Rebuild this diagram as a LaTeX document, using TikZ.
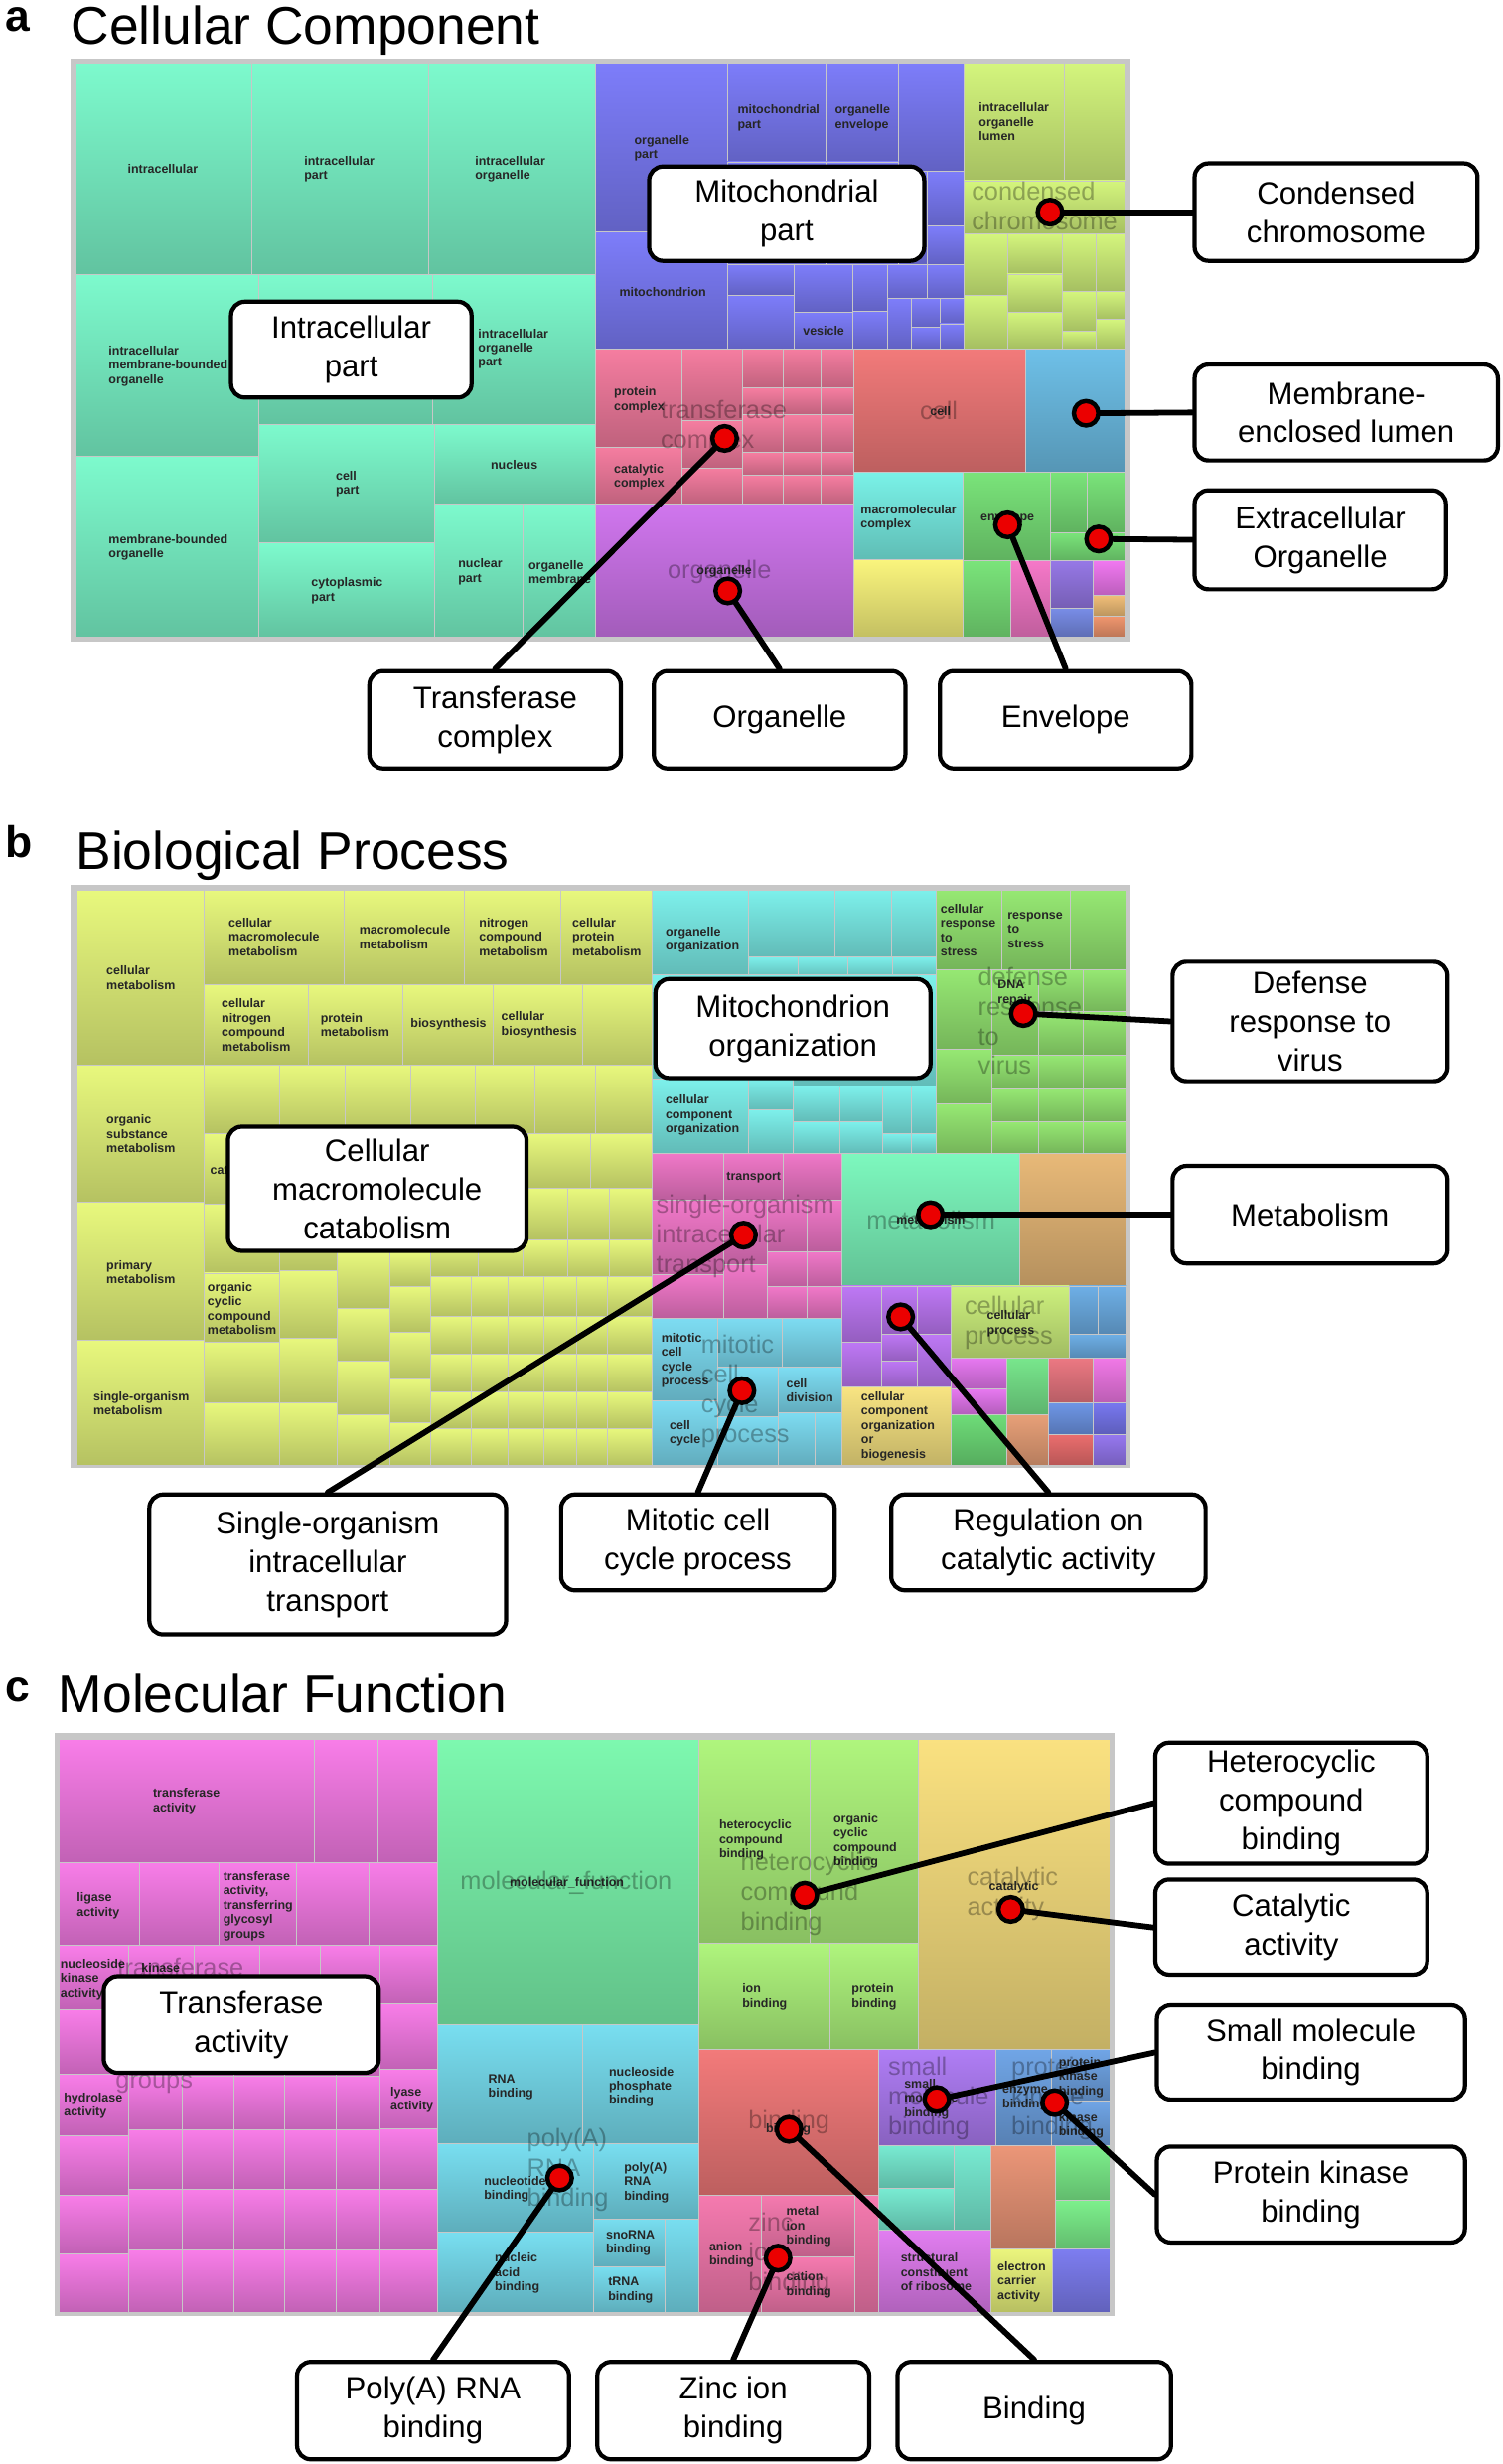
\documentclass[tikz,border=0pt]{standalone}
\usepackage{fontspec}
\setmainfont{Liberation Sans}
\usetikzlibrary{calc,positioning}

% treemap colours
\definecolor{tealA}{RGB}{125,250,205}
\definecolor{mitoA}{RGB}{125,125,250}
\definecolor{lumenA}{RGB}{212,245,125}
\definecolor{pinkA}{RGB}{245,125,160}
\definecolor{cellA}{RGB}{242,122,122}
\definecolor{blueA}{RGB}{110,192,232}
\definecolor{orgA}{RGB}{208,118,238}
\definecolor{cyanA}{RGB}{122,242,232}
\definecolor{yellowA}{RGB}{250,245,125}
\definecolor{greenA}{RGB}{122,228,122}
\definecolor{oliveB}{RGB}{232,248,125}
\definecolor{cyanB}{RGB}{125,240,235}
\definecolor{greenB}{RGB}{150,232,115}
\definecolor{pinkB}{RGB}{240,120,200}
\definecolor{blueB}{RGB}{125,220,242}
\definecolor{metabB}{RGB}{125,248,190}
\definecolor{orangeB}{RGB}{232,185,120}
\definecolor{purpB}{RGB}{190,120,245}
\definecolor{lightB}{RGB}{248,228,130}
\definecolor{ygB}{RGB}{205,240,125}
\definecolor{magC}{RGB}{248,125,232}
\definecolor{mfC}{RGB}{125,248,175}
\definecolor{cyanC}{RGB}{120,222,240}
\definecolor{hetC}{RGB}{175,245,125}
\definecolor{catC}{RGB}{250,225,128}
\definecolor{pinkC}{RGB}{245,122,175}
\definecolor{smallC}{RGB}{175,125,245}
\definecolor{pkC}{RGB}{112,165,230}
\definecolor{dotred}{RGB}{235,0,0}

\tikzset{cell/.style={top color=#1, bottom color=#1!78!black, draw=white!78!black, line width=0.4pt},
frame/.style={fill=black!22},
tm/.style={font=\fontsize{5.6}{6.5}\selectfont\bfseries, text=black!85, align=left, inner sep=0pt, anchor=west},
big/.style={font=\fontsize{11.4}{13.4}\selectfont, text=black, text opacity=0.3, align=left, inner sep=0pt, anchor=west},
lbl/.style={draw, fill=white, line width=1.9pt, rounded corners=2.2mm, align=center, inner sep=0pt, font=\fontsize{14}{17.5}\selectfont},
dot/.style={circle, fill=dotred, draw=black, line width=2pt, minimum size=3.9mm, inner sep=0pt},
conn/.style={line width=2.6pt, line cap=round},
panel/.style={font=\fontsize{20}{20}\selectfont\bfseries, anchor=base west, inner sep=0pt, text depth=0pt},
title/.style={font=\fontsize{24}{24}\selectfont, anchor=base west, inner sep=0pt}}

\begin{document}
\begin{tikzpicture}[x=0.25mm, y=-0.25mm]
\useasboundingbox (0,0) rectangle (956,1568);

% Titles
\node[panel, text height=0.6em] (la) at (3,20) {a};
\node[title] (ta) at (45,28) {Cellular Component};
\node[panel, text height=0.75em] (lb) at (3,546) {b};
\node[title] (tb) at (48,553) {Biological Process};
\node[panel, text height=0.6em] (lc) at (3,1083) {c};
\node[title] (tc) at (37,1090) {Molecular Function};

%%%%%%%%%%%%%%%% a: cellular component
\fill[frame] (45,37) rectangle (719,408);
\foreach \xa/\ya/\xb/\yb in {48/40/160/174.5, 160/40/272.8/174.5, 272.8/40/379/174.5, 48/174.5/164.4/290.6, 164.4/174.5/275/270, 275/174.5/379/270, 164.4/270/276.6/345.5, 164.4/345.5/276.6/405.5, 276.6/270/379/320.8, 276.6/320.8/333/405.5, 333/320.8/379/405.5, 48/290.6/164.4/405.5} \path[cell=tealA] (\xa,\ya) rectangle (\xb,\yb);
\foreach \xa/\ya/\xb/\yb in {379/40/462.7/147.8, 462.7/40/525.4/103, 525.4/40/571.5/103, 571.5/40/613.5/109, 379/147.8/462.7/222, 462.7/103/525.4/168.3, 525.4/103/571.5/168.3, 571.5/109/590.2/168.3, 590.2/109/613.5/144, 590.2/144/613.5/168.3, 462.7/168.3/505/187.7, 462.7/187.7/505/222, 505/168.3/542.4/198.6, 505/198.6/542.4/222, 542.4/168.3/564.7/197.9, 542.4/197.9/564.7/222, 564.7/168.3/590.2/190, 590.2/168.3/613.5/190, 564.7/190/580/222, 580/190/598/208.3, 580/208.3/598/222, 598/190/613.5/206, 598/206/613.5/222} \path[cell=mitoA] (\xa,\ya) rectangle (\xb,\yb);
\foreach \xa/\ya/\xb/\yb in {613.5/40/677/115, 677/40/716/115, 613.5/115/716/149, 613.5/149/641/187.7, 613.5/187.7/641/222, 641/149/676/174.4, 641/174.4/676/198.6, 641/198.6/676/222, 676/149/697.5/185.3, 676/185.3/697.5/210.7, 676/210.7/697.5/222, 697.5/149/716/185.3, 697.5/185.3/716/203.4, 697.5/203.4/716/222} \path[cell=lumenA] (\xa,\ya) rectangle (\xb,\yb);
\foreach \xa/\ya/\xb/\yb in {379/222/433.8/284.5, 379/284.5/433.8/320.8, 433.8/222/472.1/267.6, 433.8/267.6/472.1/297.8, 433.8/297.8/472.1/320.8} \path[cell=pinkA] (\xa,\ya) rectangle (\xb,\yb);
\foreach \xa/\xb in {472.1/498, 498/522.5, 522.5/543} \foreach \ya/\yb in {222/247, 247/263.9, 263.9/288.1, 288.1/302.6, 302.6/320.8} \path[cell=pinkA] (\xa,\ya) rectangle (\xb,\yb);
\path[cell=cellA] (543,222) rectangle (652.3,300.2);
\path[cell=blueA] (652.3,222) rectangle (716,300.2);
\path[cell=orgA] (379,320.8) rectangle (543,405.5);
\path[cell=cyanA] (543,300.2) rectangle (613,356);
\path[cell=yellowA] (543,356) rectangle (613,405.5);
\foreach \xa/\ya/\xb/\yb in {613/300.2/668.6/357, 668.6/300.2/692/339, 692/300.2/716/339, 668.6/339/716/357, 613/357/643.3/405.5} \path[cell=greenA] (\xa,\ya) rectangle (\xb,\yb);
\foreach \xa/\ya/\xb/\yb/\col in {643.3/357/668.6/405.5/{245,120,200}, 668.6/357/695.2/387.3/{150,120,230}, 668.6/387.3/695.2/405.5/{120,140,230}, 695.2/357/716/379/{240,120,240}, 695.2/379/716/392/{240,190,120}, 695.2/392/716/405.5/{240,150,110}} {\definecolor{tmp}{RGB}{\col}\path[cell=tmp] (\xa,\ya) rectangle (\xb,\yb);}

% Cell texts
\foreach \x/\y/\t [count=\i] in {81/107.4/intracellular, 193.3/107.5/{intracellular\\part}, 302/107.5/{intracellular\\organelle}, 68.9/233/{intracellular\\membrane-bounded\\organelle}, 304/222/{intracellular\\organelle\\part}, 312/295.9/nucleus, 213.4/308/{cell\\part}, 197.8/376/{cytoplasmic\\part}, 291.3/364/{nuclear\\part}, 336/364/{organelle\\membrane}, 68.9/348.4/{membrane-bounded\\organelle}, 403.3/94.3/{organelle\\part}, 469/75.2/{mitochondrial\\part}, 531/75.2/{organelle\\envelope}, 393.8/186/mitochondrion, 510.6/210.7/vesicle, 622.5/77.6/{intracellular\\organelle\\lumen}, 390.4/254.5/{protein\\complex}, 390.4/303.5/{catalytic\\complex}, 591.5/261.5/cell, 443/363.6/organelle, 547.3/329.5/{macromolecular\\complex}, 623.6/329.7/envelope} \node[tm] (sa\i) at (\x,\y) {\t};
\foreach \x/\y/\t [count=\i] in {618/131/{condensed\\chromosome}, 420/271.8/{transferase\\complex}, 585/261.5/cell, 424.5/364/organelle} \node[big] (ba\i) at (\x,\y) {\t};

% Labels
\node[lbl, minimum width=38.25mm, minimum height=15.25mm] (intra) at (223.5,222.5) {Intracellular\\part};
\node[lbl, minimum width=43.75mm, minimum height=15mm] (mitop) at (500.5,136) {Mitochondrial\\part};
\node[lbl, minimum width=45mm, minimum height=15.5mm] (cond) at (850,135) {Condensed\\chromosome};
\node[lbl, minimum width=48.25mm, minimum height=15.25mm] (mel) at (856.5,262.5) {Membrane-\\enclosed lumen};
\node[lbl, minimum width=40mm, minimum height=15.75mm] (exo) at (840,343.5) {Extracellular\\Organelle};
\node[lbl, minimum width=40mm, minimum height=15.5mm] (trc) at (315,458) {Transferase\\complex};
\node[lbl, minimum width=40mm, minimum height=15.5mm] (orgl) at (496,458) {Organelle};
\node[lbl, minimum width=40mm, minimum height=15.5mm] (env) at (678,458) {Envelope};

% Pointers
\coordinate (pCond) at (668,135);
\coordinate (pMel) at (691,263);
\coordinate (pExo) at (699,343);
\coordinate (pTrc) at (461,279);
\coordinate (pOrg) at (463,376);
\coordinate (pEnv) at (641,334);
\draw[conn] (pCond) -- (cond.west);
\draw[conn] (pMel) -- (mel.west);
\draw[conn] (pExo) -- (exo.west);
\draw[conn] (pTrc) -- (trc.north);
\draw[conn] (pOrg) -- (orgl.north);
\draw[conn] (pEnv) -- (env.north);
\foreach \p in {Cond,Mel,Exo,Trc,Org,Env} \node[dot] (d\p) at (p\p) {};

%%%%%%%%%%%%%%%% b: biological process
\fill[frame] (45,563) rectangle (719,934);
\path[cell=oliveB] (48.8,566.4) rectangle (414.8,932.6);
\foreach \xa/\ya/\xb/\yb in {48.8/566.4/129.9/677.6, 48.8/677.6/129.9/765.2, 48.8/765.2/129.9/852.6, 48.8/852.6/129.9/932.6, 129.9/566.4/218.7/626.4, 218.7/566.4/295.7/626.4, 295.7/566.4/356.9/626.4, 356.9/566.4/414.8/626.4, 129.9/626.4/196/677.6, 196/626.4/256.5/677.6, 256.5/626.4/313.8/677.6, 313.8/626.4/370.7/677.6, 370.7/626.4/414.8/677.6} \path[cell=oliveB] (\xa,\ya) rectangle (\xb,\yb);
\foreach \xa/\xb in {129.9/177.6, 177.6/219.4, 219.4/261, 261/302.2, 302.2/340.4, 340.4/378.7, 378.7/414.8} \path[cell=oliveB] (\xa,677.6) rectangle (\xb,721.4);
\foreach \xa/\ya/\xb/\yb in {129.9/721.4/177.6/766.4, 129.9/766.4/177.6/810.2, 129.9/810.2/177.6/853.9, 129.9/853.9/177.6/892.6, 129.9/892.6/177.6/932.6, 177.6/721.4/214.6/766.4, 177.6/766.4/214.6/808.9, 177.6/808.9/214.6/851.4, 177.6/851.4/214.6/892.6, 177.6/892.6/214.6/932.6, 214.6/721.4/248/796.4, 214.6/796.4/248/832.6, 214.6/832.6/248/866.4, 214.6/866.4/248/900.2, 214.6/900.2/248/932.6, 248/721.4/273.9/796.4, 248/796.4/273.9/818.9, 248/818.9/273.9/847.6, 248/847.6/273.9/877.6, 248/877.6/273.9/905.2, 248/905.2/273.9/932.6, 273.9/721.4/335.6/788.9, 335.6/721.4/375.5/756.4, 375.5/721.4/414.8/756.4, 335.6/756.4/361/788.9, 361/756.4/387.6/788.9, 387.6/756.4/414.8/788.9, 273.9/788.9/304.1/812.6, 304.1/788.9/332.7/812.6, 332.7/788.9/361/812.6, 361/788.9/387.6/812.6, 387.6/788.9/414.8/812.6} \path[cell=oliveB] (\xa,\ya) rectangle (\xb,\yb);
\foreach \xa/\xb in {273.9/300, 300/323.5, 323.5/346, 346/367, 367/386.4, 386.4/414.8} \foreach \ya/\yb in {812.6/837.6, 837.6/861.9, 861.9/885.9, 885.9/908.9, 908.9/932.6} \path[cell=oliveB] (\xa,\ya) rectangle (\xb,\yb);
\foreach \xa/\ya/\xb/\yb in {414.8/566.4/476.4/620.2, 476.4/566.4/531.2/608.9, 531.2/566.4/567/608.9, 567/566.4/595.5/608.9, 476.4/608.9/508/622.6, 508/608.9/539.6/622.6, 539.6/608.9/568/622.6, 568/608.9/595.5/622.6, 414.8/620.2/595.5/691.4, 414.8/686.4/476.4/733.9, 476.4/686.4/504.8/706.4, 476.4/706.4/504.8/733.9, 504.8/691.4/534.3/713.9, 504.8/713.9/534.3/733.9, 534.3/691.4/561.7/713.9, 534.3/713.9/561.7/733.9, 561.7/691.4/579.7/721.4, 561.7/721.4/579.7/733.9, 579.7/691.4/595.5/721.4, 579.7/721.4/595.5/733.9} \path[cell=cyanB] (\xa,\ya) rectangle (\xb,\yb);
\foreach \xa/\ya/\xb/\yb in {595.5/566.4/637.6/616.9, 637.6/566.4/680.9/616.9, 680.9/566.4/716.3/616.9, 595.5/616.9/631.3/667.6, 595.5/667.6/631.3/702.7, 595.5/702.7/631.3/733.9, 631.3/616.9/660.8/671.4, 631.3/671.4/660.8/692.7, 631.3/692.7/660.8/713.9, 631.3/713.9/660.8/733.9} \path[cell=greenB] (\xa,\ya) rectangle (\xb,\yb);
\foreach \xa/\xb in {660.8/689.3, 689.3/716.3} \foreach \ya/\yb in {616.9/643.9, 643.9/671.4, 671.4/692.7, 692.7/713.9, 713.9/733.9} \path[cell=greenB] (\xa,\ya) rectangle (\xb,\yb);
\foreach \xa/\ya/\xb/\yb in {414.8/733.9/460.6/763.9, 460.6/733.9/498.5/763.9, 498.5/733.9/535.4/763.9, 414.8/763.9/460.6/811.4, 414.8/811.4/460.6/838.9, 460.6/763.9/488/805, 460.6/805/488/838.9, 488/763.9/513.3/796.4, 513.3/763.9/535.4/796.4, 488/796.4/513.3/818.9, 513.3/796.4/535.4/818.9, 488/818.9/513.3/838.9, 513.3/818.9/535.4/838.9} \path[cell=pinkB] (\xa,\ya) rectangle (\xb,\yb);
\foreach \xa/\ya/\xb/\yb in {414.8/838.9/456.3/891.4, 456.3/838.9/497.5/870.2, 497.5/838.9/535.4/870.2, 456.3/870.2/495.3/901.4, 495.3/870.2/535.4/898.9, 414.8/891.4/456.3/932.6, 456.3/901.4/495.3/932.6, 495.3/898.9/518.5/932.6, 518.5/898.9/535.4/932.6} \path[cell=blueB] (\xa,\ya) rectangle (\xb,\yb);
\path[cell=metabB] (535.4,733.9) rectangle (648.8,818.4);
\path[cell=orangeB] (648.8,733.9) rectangle (716.3,818.4);
\foreach \xa/\ya/\xb/\yb in {535.4/818.4/560.7/853.9, 535.4/853.9/560.7/882.6, 560.7/818.4/583.5/848.9, 560.7/848.9/583.5/865.9, 560.7/865.9/583.5/882.6, 583.5/818.4/605/848.9, 583.5/848.9/605/882.6} \path[cell=purpB] (\xa,\ya) rectangle (\xb,\yb);
\path[cell=lightB] (535.4,882.6) rectangle (605,932.6);
\path[cell=ygB] (605,818.4) rectangle (680.4,864.4);
\foreach \xa/\ya/\xb/\yb/\col in {680.4/818.4/698.8/848.9/{110,175,230}, 698.8/818.4/716.3/848.9/{110,175,230}, 680.4/848.9/716.3/864.4/{110,175,230}, 605/864.4/640.4/884/{230,120,240}, 605/884/640.4/900.2/{230,120,240}, 605/900.2/640.4/932.6/{110,220,120}, 640.4/864.4/667.2/900.2/{120,230,140}, 640.4/900.2/667.2/932.6/{232,160,120}, 667.2/864.4/695.6/892.6/{235,120,130}, 667.2/892.6/695.6/912.6/{110,150,230}, 667.2/912.6/695.6/932.6/{235,110,110}, 695.6/864.4/716.3/892.6/{240,120,230}, 695.6/892.6/716.3/912.6/{120,120,240}, 695.6/912.6/716.3/932.6/{150,120,240}} {\definecolor{tmp}{RGB}{\col}\path[cell=tmp] (\xa,\ya) rectangle (\xb,\yb);}

% Cell texts
\foreach \x/\y/\t [count=\i] in {67.5/622.3/{cellular\\metabolism}, 67.5/721.7/{organic\\substance\\metabolism}, 67.5/809.7/{primary\\metabolism}, 59.2/893/{single-organism\\metabolism}, 145.2/596.3/{cellular\\macromolecule\\metabolism}, 228.4/596.4/{macromolecule\\metabolism}, 304.6/596.3/{nitrogen\\compound\\metabolism}, 363.9/596.3/{cellular\\protein\\metabolism}, 140.8/652.2/{cellular\\nitrogen\\compound\\metabolism}, 203.7/652.2/{protein\\metabolism}, 261/652/biosynthesis, 318.7/652.2/{cellular\\biosynthesis}, 133.5/744.4/catabolism, 131.8/832.7/{organic\\cyclic\\compound\\metabolism}, 423.2/598/{organelle\\organization}, 423.2/709.7/{cellular\\component\\organization}, 598.2/592/{cellular\\response\\to\\stress}, 640.8/591.8/{response\\to\\stress}, 634.5/632/{DNA\\repair}, 462/749.4/transport, 420.5/865.6/{mitotic\\cell\\cycle\\process}, 500/884.8/{cell\\division}, 425.8/912.3/{cell\\cycle}, 570/776/metabolism, 547.6/907.7/{cellular\\component\\organization\\or\\biogenesis}, 627.7/842.2/{cellular\\process}} \node[tm] (sb\i) at (\x,\y) {\t};
\foreach \x/\y/\t [count=\i] in {622/649.8/{defense\\response\\to\\virus}, 417.3/786.7/{single-organism\\intracellular\\transport}, 551/776.4/metabolism, 445.8/885.5/{mitotic\\cell\\cycle\\process}, 613.4/842/{cellular\\process}} \node[big] (bb\i) at (\x,\y) {\t};

% Labels
\node[lbl, minimum width=43.75mm, minimum height=15.75mm] (mito) at (504.5,654.5) {Mitochondrion\\organization};
\node[lbl, minimum width=47.5mm, minimum height=19.75mm] (cmc) at (240,756.5) {Cellular\\macromolecule\\catabolism};
\node[lbl, minimum width=43.75mm, minimum height=19mm] (def) at (833.5,650) {Defense\\response to\\virus};
\node[lbl, minimum width=43.75mm, minimum height=15.5mm] (met) at (833.5,773) {Metabolism};
\node[lbl, minimum width=56.75mm, minimum height=22.25mm] (sit) at (208.5,995.5) {Single-organism\\intracellular\\transport};
\node[lbl, minimum width=43.5mm, minimum height=15.25mm] (mcc) at (444,981.5) {Mitotic cell\\cycle process};
\node[lbl, minimum width=50mm, minimum height=15.25mm] (reg) at (667,981.5) {Regulation on\\catalytic activity};

% Pointers
\coordinate (pDef) at (651,645);
\coordinate (pMet) at (592,773);
\coordinate (pSit) at (473,786);
\coordinate (pMcc) at (472,885);
\coordinate (pReg) at (573,838);
\draw[conn] (pDef) -- (def.west);
\draw[conn] (pMet) -- (met.west);
\draw[conn] (pSit) -- (sit.north);
\draw[conn] (pMcc) -- (mcc.north);
\draw[conn] (pReg) -- (reg.north);
\foreach \p in {Def,Met,Sit,Mcc,Reg} \node[dot] (d\p) at (p\p) {};

%%%%%%%%%%%%%%%% c: molecular function
\fill[frame] (35,1103) rectangle (709,1474);
\path[cell=magC] (37.6,1107.1) rectangle (278.1,1471.3);
\foreach \xa/\ya/\xb/\yb in {37.6/1107.1/200/1185.3, 200/1107.1/240.5/1185.3, 240.5/1107.1/278.1/1185.3, 37.6/1185.3/88.9/1237.8, 88.9/1185.3/139.1/1237.8, 139.1/1185.3/188.4/1237.8, 188.4/1185.3/235/1237.8, 235/1185.3/278.1/1237.8, 37.6/1237.8/81.5/1278.9, 81.5/1237.8/123.4/1278.9, 123.4/1237.8/165.1/1278.9, 165.1/1237.8/203.5/1275.3, 203.5/1237.8/241.4/1275.3, 241.4/1237.8/278.1/1275.3, 241.4/1275.3/278.1/1317, 241.4/1317/278.1/1354.7, 241.4/1354.7/278.1/1393, 241.4/1393/278.1/1432, 241.4/1432/278.1/1471.3, 37.6/1278.9/81.5/1320.1, 37.6/1320.1/81.5/1358.8, 37.6/1358.8/81.5/1397, 37.6/1397/81.5/1434, 37.6/1434/81.5/1471.3} \path[cell=magC] (\xa,\ya) rectangle (\xb,\yb);
\foreach \xa/\xb in {81.5/115.8, 115.8/148.7, 148.7/181, 181/214, 214/241.4} \foreach \ya/\yb in {1278.9/1321, 1321/1355, 1355/1393, 1393/1432, 1432/1471.3} \path[cell=magC] (\xa,\ya) rectangle (\xb,\yb);
\path[cell=mfC] (278.1,1107.1) rectangle (444.8,1288.6);
\foreach \xa/\ya/\xb/\yb in {278.1/1288.6/370.8/1364.4, 370.8/1288.6/444.8/1364.4, 278.1/1364.4/377.6/1420.5, 377.6/1364.4/444.8/1412, 278.1/1420.5/377.6/1471.3, 377.6/1412/423.4/1442.3, 377.6/1442.3/423.4/1471.3, 423.4/1412/444.8/1471.3} \path[cell=cyanC] (\xa,\ya) rectangle (\xb,\yb);
\foreach \xa/\ya/\xb/\yb in {444.8/1107.1/515.3/1236.6, 515.3/1107.1/584.4/1236.6, 444.8/1236.6/527.9/1304.3, 527.9/1236.6/584.4/1304.3} \path[cell=hetC] (\xa,\ya) rectangle (\xb,\yb);
\path[cell=catC] (584.4,1107.1) rectangle (706.5,1304.3);
\path[cell=cellA] (444.8,1304.3) rectangle (558.9,1396.8);
\foreach \xa/\ya/\xb/\yb in {444.8/1396.8/484.3/1471.3, 484.3/1396.8/543.7/1436.2, 484.3/1436.2/543.7/1471.3, 543.7/1396.8/558.9/1471.3} \path[cell=pinkC] (\xa,\ya) rectangle (\xb,\yb);
\path[cell=smallC] (558.9,1304.3) rectangle (633.3,1365.3);
\foreach \xa/\ya/\xb/\yb in {633.3/1304.3/669.2/1365.3, 669.2/1304.3/706.5/1337, 669.2/1337/706.5/1365.3} \path[cell=pkC] (\xa,\ya) rectangle (\xb,\yb);
\foreach \xa/\ya/\xb/\yb/\col in {558.9/1365.3/607/1392.7/{120,235,210}, 558.9/1392.7/607/1419.3/{120,235,210}, 607/1365.3/630.2/1419.3/{120,235,210}, 558.9/1419.3/630.2/1471.3/{225,125,240}, 630.2/1365.3/671.3/1431.4/{235,150,120}, 630.2/1431.4/669.8/1471.3/{235,245,125}, 671.3/1365.3/706.5/1399.9/{125,240,140}, 671.3/1399.9/706.5/1431.4/{125,240,140}, 669.8/1431.4/706.5/1471.3/{125,125,240}} {\definecolor{tmp}{RGB}{\col}\path[cell=tmp] (\xa,\ya) rectangle (\xb,\yb);}

% Cell texts
\foreach \x/\y/\t [count=\i] in {97.1/1146.4/{transferase\\activity}, 48.6/1212.8/{ligase\\activity}, 141.8/1212.8/{transferase\\activity,\\transferring\\glycosyl\\groups}, 38.2/1259.9/{nucleoside\\kinase\\activity}, 89.7/1252.8/kinase, 40.4/1340/{hydrolase\\activity}, 248.2/1336.2/{lyase\\activity}, 324/1198.3/molecular\_function, 310.5/1328/{RNA\\binding}, 387.2/1328/{nucleoside\\phosphate\\binding}, 307.7/1393.2/{nucleotide\\binding}, 396.8/1389/{poly(A)\\RNA\\binding}, 314.6/1446.7/{nucleic\\acid\\binding}, 385.3/1427.5/{snoRNA\\binding}, 386.7/1457.4/{tRNA\\binding}, 457.3/1171.2/{heterocyclic\\compound\\binding}, 530/1171.6/{organic\\cyclic\\compound\\binding}, 472/1270.7/{ion\\binding}, 541.6/1270.7/{protein\\binding}, 629/1201/catalytic, 487/1355/binding, 451/1434.7/{anion\\binding}, 500.1/1417/{metal\\ion\\binding}, 500.1/1454.1/{cation\\binding}, 575/1335.8/{small\\molecule\\binding}, 637.5/1335.4/{enzyme\\binding}, 673.4/1322/{protein\\kinase\\binding}, 673.4/1352.5/{kinase\\binding}, 572.8/1445.9/{structural\\constituent\\of ribosome}, 634.4/1452/{electron\\carrier\\activity}} \node[tm] (sc\i) at (\x,\y) {\t};
\foreach \x/\y/\t [count=\i] in {74.6/1252.3/transferase, 73.3/1326.1/groups, 292.6/1198.3/molecular\_function, 335.1/1381/{poly(A)\\RNA\\binding}, 471/1205.1/{heterocyclic\\compound\\binding}, 615/1205.4/{catalytic\\activity}, 475.8/1350.3/binding, 475.9/1434.5/{zinc\\ion\\binding}, 564.8/1335.3/{small\\molecule\\binding}, 643.2/1335.3/{protein\\kinase\\binding}} \node[big] (bc\i) at (\x,\y) {\t};

% Labels
\node[lbl, minimum width=43.75mm, minimum height=15.25mm] (tra) at (153.5,1288.5) {Transferase\\activity};
\node[lbl, minimum width=43.25mm, minimum height=19.25mm] (het) at (821.5,1147.5) {Heterocyclic\\compound\\binding};
\node[lbl, minimum width=43.25mm, minimum height=15.25mm] (cat) at (821.5,1226.5) {Catalytic\\activity};
\node[lbl, minimum width=49mm, minimum height=15mm] (smb) at (834,1306) {Small molecule\\binding};
\node[lbl, minimum width=49mm, minimum height=15.25mm] (pkb) at (834,1396.5) {Protein kinase\\binding};
\node[lbl, minimum width=43.25mm, minimum height=15.5mm] (poly) at (275.5,1534) {Poly(A) RNA\\binding};
\node[lbl, minimum width=43.25mm, minimum height=15.5mm] (zinc) at (466.5,1534) {Zinc ion\\binding};
\node[lbl, minimum width=43.5mm, minimum height=15.5mm] (bind) at (658,1534) {Binding};

% Pointers
\coordinate (pHet) at (512,1206);
\coordinate (pCat) at (643,1215);
\coordinate (pSmb) at (596,1336);
\coordinate (pPkb) at (671,1338);
\coordinate (pPoly) at (356,1386);
\coordinate (pZinc) at (495,1437);
\coordinate (pBind) at (502,1355);
\draw[conn] (pHet) -- (het.west);
\draw[conn] (pCat) -- (cat.west);
\draw[conn] (pSmb) -- (smb.west);
\draw[conn] (pPkb) -- (pkb.west);
\draw[conn] (pPoly) -- (poly.north);
\draw[conn] (pZinc) -- (zinc.north);
\draw[conn] (pBind) -- (bind.north);
\foreach \p in {Het,Cat,Smb,Pkb,Poly,Zinc,Bind} \node[dot] (d\p) at (p\p) {};

\end{tikzpicture}
\end{document}
